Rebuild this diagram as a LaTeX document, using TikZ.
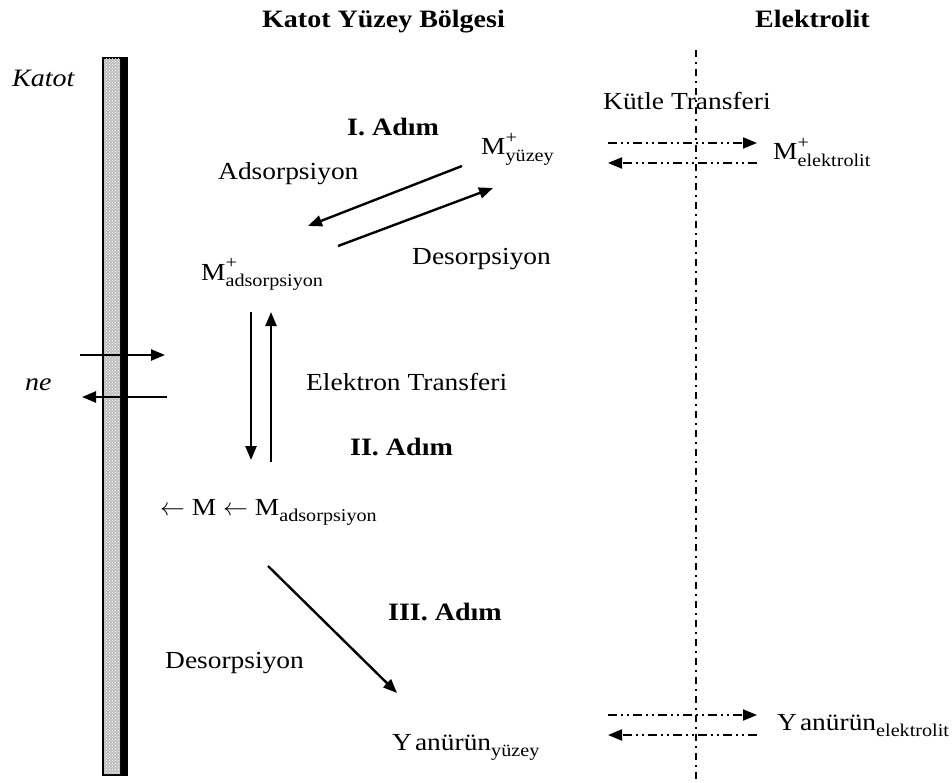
\documentclass[tikz,border=0pt]{standalone}
\usepackage{fontspec}
\setmainfont[FakeStretch=1.12]{Liberation Serif}
\usetikzlibrary{arrows.meta,patterns}
\newcommand{\mysupsub}[2]{\rlap{\raisebox{0.45em}{\fontsize{18}{19}\selectfont #1}}\raisebox{-0.25em}{\fontsize{18}{19}\selectfont #2}}
\newcommand{\mysub}[1]{\raisebox{-0.25em}{\fontsize{18}{19}\selectfont #1}}
\tikzset{
  lbl/.style={anchor=base west, inner sep=0pt, font=\fontsize{24.5}{26}\selectfont},
  ttl/.style={anchor=base west, inner sep=0pt, font=\fontsize{25}{27}\selectfont\bfseries},
  arr/.style={line width=2.4pt, -{Triangle[length=14pt,width=11pt]}},
  dd/.style={line width=2pt, dash pattern=on 9pt off 4pt on 2pt off 4pt on 2pt off 4pt, -{Triangle[length=14pt,width=11pt]}},
  vline/.style={line width=1.8pt, dash pattern=on 7pt off 5pt on 2pt off 5pt}
}
\begin{document}
\begin{tikzpicture}[x=1pt,y=-1pt]
\useasboundingbox (0,0) rectangle (952,783);
% electrode
\fill[black] (102,57) rectangle (128,776);
\fill[gray!50] (104,59) rectangle (120,774);
\fill[pattern=crosshatch dots, pattern color=white] (104,59) rectangle (120,774);
% titles
\node[ttl] (t1) at (262,28) {Katot Yüzey Bölgesi};
\node[ttl] (t2) at (755,28) {Elektrolit};
\node[lbl, font=\fontsize{25}{26}\selectfont\itshape] (katot) at (12,87) {Katot};
\node[lbl, font=\fontsize{25}{26}\selectfont\itshape] (ne) at (25,390) {ne};
% electron arrows
\coordinate (e1a) at (80,355); \coordinate (e1b) at (165,355);
\coordinate (e2a) at (167,397); \coordinate (e2b) at (82,397);
\draw[arr] (e1a) -- (e1b);
\draw[arr] (e2a) -- (e2b);
% texts
\node[lbl] (kt) at (603,110) {Kütle Transferi};
\node[ttl] (a1) at (347,136) {I. Adım};
\node[lbl] (my) at (481,155) {M\mysupsub{+}{yüzey}};
\node[lbl] (ads) at (218,180) {Adsorpsiyon};
\node[lbl] (des1) at (412,265) {Desorpsiyon};
\node[lbl] (mads) at (201,280) {M\mysupsub{+}{adsorpsiyon}};
\node[lbl] (et) at (306,390) {Elektron Transferi};
\node[ttl] (a2) at (350,455) {II. Adım};
\node[lbl] (mm) at (160,515) {$\leftarrow$ M $\leftarrow$ M\mysub{adsorpsiyon}};
\node[ttl] (a3) at (388,620) {III. Adım};
\node[lbl] (des2) at (165,668) {Desorpsiyon};
\node[lbl] (yy) at (392,750) {Y\hspace{3pt}anürün\mysub{yüzey}};
\node[lbl] (me) at (773,160) {M\mysupsub{+}{elektrolit}};
\node[lbl] (ye) at (777,730) {Y\hspace{3pt}anürün\mysub{elektrolit}};
% reaction arrows
\coordinate (p1) at (462,166); \coordinate (p2) at (308,226);
\coordinate (p3) at (338,246); \coordinate (p4) at (493,188);
\draw[arr] (p1) -- (p2);
\draw[arr] (p3) -- (p4);
\coordinate (v1) at (251,312); \coordinate (v2) at (251,460);
\coordinate (v3) at (271,462); \coordinate (v4) at (271,312);
\draw[arr] (v1) -- (v2);
\draw[arr] (v3) -- (v4);
\coordinate (d1) at (268,566); \coordinate (d2) at (397,693);
\draw[arr] (d1) -- (d2);
% electrolyte boundary
\coordinate (b1) at (696,50); \coordinate (b2) at (696,783);
\draw[vline] (b1) -- (b2);
\coordinate (m1) at (608,143); \coordinate (m2) at (757,143);
\coordinate (m3) at (757,163); \coordinate (m4) at (608,163);
\draw[dd] (m1) -- (m2);
\draw[dd] (m3) -- (m4);
\coordinate (y1) at (608,715); \coordinate (y2) at (757,715);
\coordinate (y3) at (757,735); \coordinate (y4) at (608,735);
\draw[dd] (y1) -- (y2);
\draw[dd] (y3) -- (y4);
\end{tikzpicture}
\end{document}
